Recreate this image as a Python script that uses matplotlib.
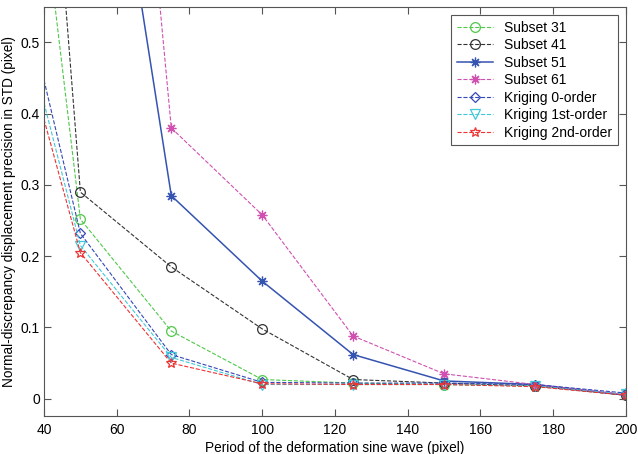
import numpy as np
import matplotlib.pyplot as plt

plt.rcParams['font.family'] = ['Liberation Sans', 'DejaVu Sans']

periods = [40, 50, 75, 100, 125, 150, 175, 200]

subset31 = [0.68, 0.252, 0.095, 0.027, 0.022, 0.020, 0.018, 0.005]
subset41 = [0.94, 0.290, 0.185, 0.098, 0.027, 0.022, 0.018, 0.005]
subset51 = [2.00, 1.100, 0.285, 0.165, 0.062, 0.025, 0.020, 0.005]
subset61 = [2.50, 1.750, 0.380, 0.258, 0.088, 0.035, 0.020, 0.006]
kriging0 = [0.447, 0.232, 0.062, 0.023, 0.022, 0.022, 0.020, 0.008]
kriging1 = [0.415, 0.215, 0.058, 0.020, 0.020, 0.020, 0.018, 0.006]
kriging2 = [0.392, 0.205, 0.050, 0.021, 0.020, 0.020, 0.017, 0.005]

labels = ['Subset 31', 'Subset 41', 'Subset 51', 'Subset 61',
          'Kriging 0-order', 'Kriging 1st-order', 'Kriging 2nd-order']
series = [subset31, subset41, subset51, subset61, kriging0, kriging1, kriging2]
colors = ['#4fc84a', '#333333', '#3553b0', '#d050b0', '#3548b8', '#40c8d8', '#ee3333']
# MATLAB-style asterisk = 8 spokes
markers = ['o', 'o', (8, 2, 0), (8, 2, 0), 'D', 'v', '*']
msizes = [7, 7, 7, 7, 5.5, 7, 7]
styles = ['--', '--', '-', '--', '--', '--', '--']

fig = plt.figure(figsize=(6.38, 4.54), dpi=100)
ax = fig.add_axes([0.069, 0.084, 0.912, 0.901])

for vals, lab, c, m, ms, ls in zip(series, labels, colors, markers, msizes, styles):
    lw = 1.1 if ls == '-' else 0.8
    ax.plot(periods, vals, linestyle=ls, color=c, lw=lw, marker=m, ms=ms,
            mfc='none', mec=c, mew=0.9, markevery=slice(1, None), label=lab)

ax.set_xlim(40, 200)
ax.set_ylim(-0.024, 0.55)
ax.set_xticks(np.arange(40, 201, 20))
ax.set_yticks(np.arange(0, 0.51, 0.1))
ax.set_yticklabels(['0', '0.1', '0.2', '0.3', '0.4', '0.5'])
ax.tick_params(direction='in', top=True, right=True, labelsize=10, length=5,
               color='#555555')
ax.tick_params(axis='x', pad=5)
ax.tick_params(axis='y', pad=3)
for s in ax.spines.values():
    s.set_color('#555555')

ax.set_xlabel('Period of the deformation sine wave (pixel)', fontsize=9.8, labelpad=3)
ax.set_ylabel('Normal-discrepancy displacement precision in STD (pixel)', fontsize=9.8, labelpad=3)

leg = ax.legend(loc='upper right', fontsize=10, fancybox=False, framealpha=1,
                edgecolor='#555555', handlelength=2.6, labelspacing=0.25,
                borderaxespad=0.6)
leg.get_frame().set_linewidth(0.8)

fig.savefig('out.png', dpi=100)
